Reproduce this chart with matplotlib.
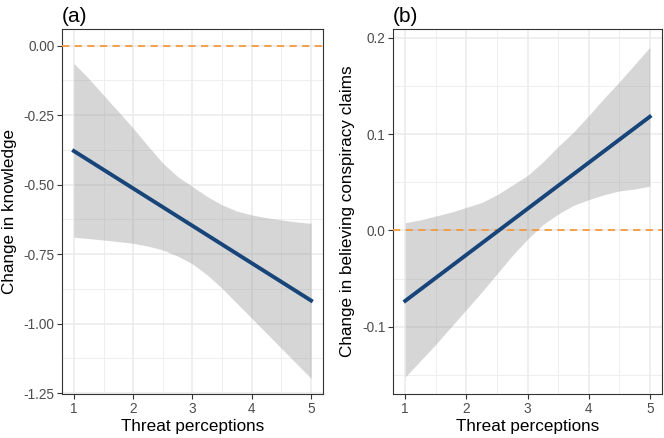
import numpy as np
import matplotlib
matplotlib.use('Agg')
import matplotlib.pyplot as plt
from matplotlib.ticker import FixedLocator, FixedFormatter

plt.rcParams['font.family'] = ['Liberation Sans', 'DejaVu Sans']

# threat perceptions grid (ribbon read every 0.25)
threat = [1.0, 1.25, 1.5, 1.75, 2.0, 2.25, 2.5, 2.75, 3.0,
          3.25, 3.5, 3.75, 4.0, 4.25, 4.5, 4.75, 5.0]
threat_ends = [1.0, 5.0]

# panel (a): change in knowledge
know_fit = [-0.379, -0.917]
know_hi = [-0.064, -0.118, -0.178, -0.237, -0.297, -0.361, -0.423, -0.471, -0.507,
           -0.543, -0.573, -0.595, -0.609, -0.619, -0.627, -0.634, -0.639]
know_lo = [-0.689, -0.694, -0.699, -0.705, -0.711, -0.721, -0.735, -0.757, -0.785,
           -0.825, -0.873, -0.927, -0.981, -1.035, -1.089, -1.143, -1.197]

# panel (b): change in believing conspiracy claims
consp_fit = [-0.073, 0.118]
consp_hi = [0.008, 0.011, 0.015, 0.019, 0.024, 0.029, 0.037, 0.047, 0.057,
            0.071, 0.087, 0.102, 0.119, 0.137, 0.154, 0.172, 0.190]
consp_lo = [-0.152, -0.135, -0.118, -0.100, -0.082, -0.064, -0.045, -0.026, -0.009,
            0.006, 0.017, 0.026, 0.032, 0.037, 0.041, 0.043, 0.046]

x_ticks = [1, 2, 3, 4, 5]
x_minor = [1.5, 2.5, 3.5, 4.5]
a_ticks = [0.0, -0.25, -0.50, -0.75, -1.00, -1.25]
a_labels = ['0.00', '-0.25', '-0.50', '-0.75', '-1.00', '-1.25']
a_minor = [-0.125, -0.375, -0.625, -0.875, -1.125]
b_ticks = [-0.1, 0.0, 0.1, 0.2]
b_labels = ['-0.1', '0.0', '0.1', '0.2']
b_minor = [-0.15, -0.05, 0.05, 0.15]

NAVY = '#17457a'
ORANGE = '#f59a3c'


def style_panel(ax, yt, yl, ym, ylim):
    ax.set_xlim(0.8, 5.2)
    ax.set_ylim(*ylim)
    ax.xaxis.set_major_locator(FixedLocator(x_ticks))
    ax.xaxis.set_minor_locator(FixedLocator(x_minor))
    ax.yaxis.set_major_locator(FixedLocator(yt))
    ax.yaxis.set_major_formatter(FixedFormatter(yl))
    ax.yaxis.set_minor_locator(FixedLocator(ym))
    ax.grid(which='major', color='#ebebeb', linewidth=1.1, zorder=0)
    ax.grid(which='minor', color='#ebebeb', linewidth=0.6, zorder=0)
    ax.set_axisbelow(True)
    ax.tick_params(which='major', length=3.5, width=0.8, color='#333333',
                   labelcolor='#4d4d4d', labelsize=9.8, pad=2)
    ax.tick_params(which='minor', length=0)
    for s in ax.spines.values():
        s.set_color('#333333')
        s.set_linewidth(0.8)
    ax.set_xlabel('Threat perceptions', fontsize=12.3, labelpad=2.5)


fig = plt.figure(figsize=(6.64, 4.38), dpi=100)

ax1 = fig.add_axes([0.0934, 0.1005, 0.393, 0.8333])
ax1.fill_between(threat, know_lo, know_hi, color='#999999', alpha=0.4,
                 linewidth=0, zorder=2)
ax1.axhline(0, color=ORANGE, linestyle=(0, (4, 3)), linewidth=1.3, zorder=3)
ax1.plot(threat_ends, know_fit, color=NAVY, linewidth=2.8, zorder=4)
style_panel(ax1, a_ticks, a_labels, a_minor, (-1.253, 0.06))
ax1.set_ylabel('Change in knowledge', fontsize=12.3)
ax1.yaxis.set_label_coords(-0.172, 0.5)
ax1.set_title('(a)', loc='left', fontsize=15, pad=5)

ax2 = fig.add_axes([0.5919, 0.1005, 0.4051, 0.8333])
ax2.fill_between(threat, consp_lo, consp_hi, color='#999999', alpha=0.4,
                 linewidth=0, zorder=2)
ax2.axhline(0, color=ORANGE, linestyle=(0, (4, 3)), linewidth=1.3, zorder=3)
ax2.plot(threat_ends, consp_fit, color=NAVY, linewidth=2.8, zorder=4)
style_panel(ax2, b_ticks, b_labels, b_minor, (-0.1696, 0.209))
ax2.set_ylabel('Change in believing conspiracy claims', fontsize=12.3)
ax2.yaxis.set_label_coords(-0.141, 0.5)
ax2.set_title('(b)', loc='left', fontsize=15, pad=5)

fig.savefig('out.png', dpi=100)
